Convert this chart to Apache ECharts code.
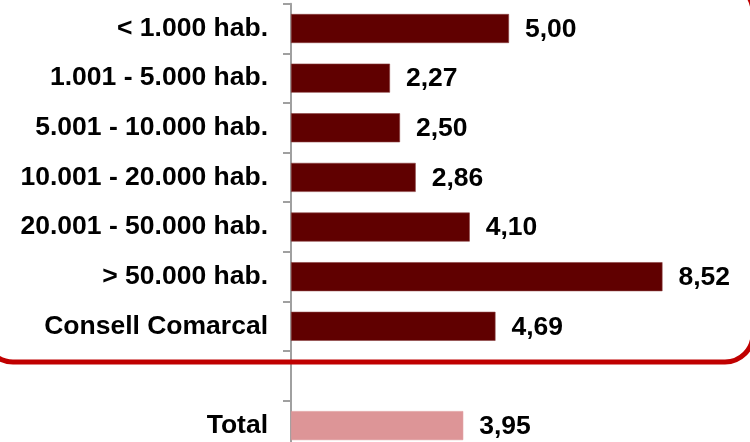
<!DOCTYPE html>
<html>
<head>
<meta charset="utf-8">
<script src="https://cdn.jsdelivr.net/npm/echarts@6/dist/echarts.min.js"></script>
<style>
  html, body { margin: 0; padding: 0; background: #ffffff; }
  #chart { width: 750px; height: 442px; }
</style>
</head>
<body>
<div id="chart"></div>
<script>
// Population-size groups, a spacer row, then the overall total
const categories = [
  '< 1.000 hab.',
  '1.001 - 5.000 hab.',
  '5.001 - 10.000 hab.',
  '10.001 - 20.000 hab.',
  '20.001 - 50.000 hab.',
  '> 50.000 hab.',
  'Consell Comarcal',
  '',
  'Total'
];
const groupValues = [5.00, 2.27, 2.50, 2.86, 4.10, 8.52, 4.69];
const totalValue = 3.95;

const FONT = '"Liberation Sans", Arial, sans-serif';
const DARK = '#600000';
const LIGHT = '#dd9597';

const seriesData = groupValues.map(v => ({ value: v }))
  .concat([{ value: null }, { value: totalValue, itemStyle: { color: LIGHT, borderColor: LIGHT } }]);

const fmt = v => v.toFixed(2).replace('.', ',');

const chart = echarts.init(document.getElementById('chart'), null, { renderer: 'canvas' });
chart.setOption({
  animation: false,
  backgroundColor: '#ffffff',
  grid: {
    left: 291, right: 23, top: 3.7, height: 446.7,
    containLabel: false,
    outerBoundsMode: 'none'
  },
  xAxis: {
    type: 'value',
    min: 0,
    max: 10,
    show: false
  },
  yAxis: {
    type: 'category',
    inverse: true,
    data: categories,
    axisLine: { show: true, lineStyle: { color: '#a0a0a0', width: 2 } },
    axisTick: { show: true, length: 8, lineStyle: { color: '#a0a0a0', width: 2 } },
    axisLabel: {
      margin: 23,
      color: '#000000',
      fontFamily: FONT,
      fontWeight: 'bold',
      fontSize: 26.5
    },
    splitLine: { show: false }
  },
  series: [{
    type: 'bar',
    data: seriesData,
    barWidth: 29,
    itemStyle: { color: DARK, borderColor: '#8a4040', borderWidth: 0.6 },
    label: {
      show: true,
      position: 'right',
      distance: 16,
      offset: [0, 1],
      color: '#000000',
      fontFamily: FONT,
      fontWeight: 'bold',
      fontSize: 26.5,
      formatter: p => (p.value == null ? '' : fmt(p.value))
    }
  }],
  // rounded frame around the group rows
  graphic: [{
    type: 'rect',
    z: 100,
    silent: true,
    shape: { x: -15, y: -16, width: 768, height: 378, r: 28 },
    style: { fill: 'none', stroke: '#c00000', lineWidth: 5 }
  }]
});
</script>
</body>
</html>
